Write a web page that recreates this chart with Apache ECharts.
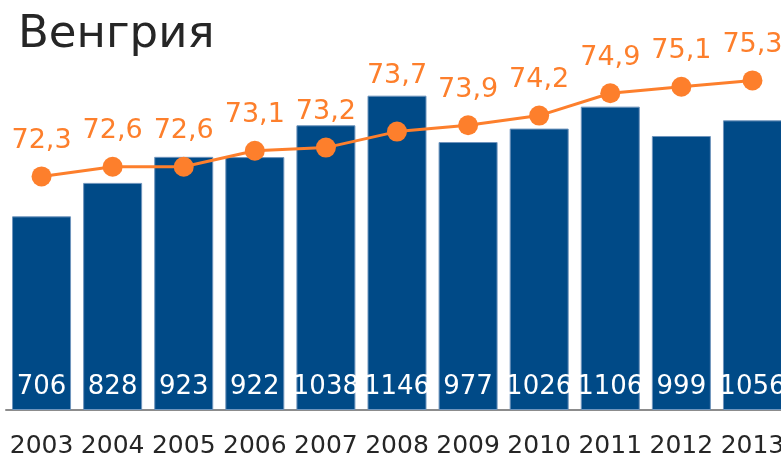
<!DOCTYPE html>
<html>
<head>
<meta charset="utf-8">
<script src="https://cdn.jsdelivr.net/npm/echarts@6/dist/echarts.min.js"></script>
<style>
  html, body { margin: 0; padding: 0; background: #fff; }
  #chart { width: 781px; height: 453px; }
</style>
</head>
<body>
<div id="chart"></div>
<script>
// Венгрия: столбцы + линия с подписями
const years = ['2003', '2004', '2005', '2006', '2007', '2008', '2009', '2010', '2011', '2012', '2013'];
const barValues = [706, 828, 923, 922, 1038, 1146, 977, 1026, 1106, 999, 1056];
const lineValues = [72.3, 72.6, 72.6, 73.1, 73.2, 73.7, 73.9, 74.2, 74.9, 75.1, 75.3];

const FONT = 'DejaVu Sans';
const BLUE = '#004a87';
const ORANGE = '#fd7f2c';

// подпись 2008 года поднята над столбцом
const lineData = lineValues.map((v, i) =>
  i === 5 ? { value: v, label: { distance: 32 } } : v
);

const chart = echarts.init(document.getElementById('chart'));
chart.setOption({
  animation: false,
  textStyle: { fontFamily: FONT },
  title: {
    text: 'Венгрия',
    left: 13, top: 8,
    textStyle: { fontFamily: FONT, fontSize: 45, fontWeight: 'normal', color: '#262626' },
  },
  // сетка шире окна: последний столбец обрезан, как в оригинале
  grid: { left: 6, top: 26, width: 782, bottom: 43, containLabel: false, outerBoundsMode: 'none' },
  xAxis: {
    type: 'category',
    data: years,
    axisLine: { lineStyle: { color: '#8c8c8c', width: 2 } },
    axisTick: { length: 8, lineStyle: { color: '#8c8c8c', width: 2 } },
    axisLabel: { interval: 0, color: '#262626', fontSize: 25, margin: 24, fontFamily: FONT },
  },
  yAxis: [
    { type: 'value', min: 0, max: 1400, show: false },
    { type: 'value', min: 65, max: 77, show: false },
  ],
  series: [
    {
      type: 'bar',
      data: barValues,
      yAxisIndex: 0,
      barWidth: 59,
      itemStyle: { color: BLUE, borderColor: '#6f95bd', borderWidth: 1 },
      label: {
        show: true, position: 'insideBottom', distance: 10,
        color: '#fff', fontSize: 26, fontFamily: FONT,
      },
    },
    {
      type: 'line',
      data: lineData,
      yAxisIndex: 1,
      symbol: 'circle',
      symbolSize: 20,
      lineStyle: { color: ORANGE, width: 3 },
      itemStyle: { color: ORANGE },
      label: {
        show: true, position: 'top', distance: 12,
        color: ORANGE, fontSize: 27, fontFamily: FONT,
        formatter: (p) => String(p.value.toFixed(1)).replace('.', ','),
      },
    },
  ],
});
</script>
</body>
</html>
